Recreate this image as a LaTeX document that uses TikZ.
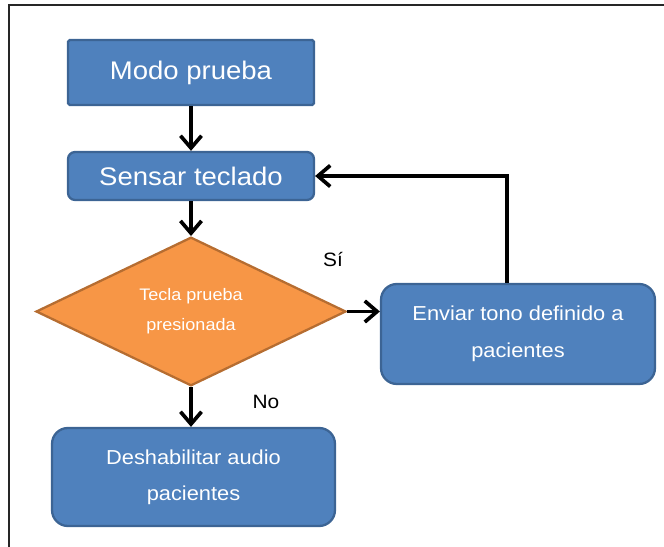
\documentclass[tikz,border=0pt]{standalone}
\usepackage{fontspec}
\setmainfont{Liberation Sans}[FakeStretch=1.08]
\usetikzlibrary{shapes.geometric}
\usetikzlibrary{positioning}
\usetikzlibrary{arrows.meta}
\definecolor{boxblue}{HTML}{4F81BD}
\definecolor{boxedge}{HTML}{3C6494}
\definecolor{decorange}{HTML}{F79646}
\definecolor{decedge}{HTML}{B66D31}
\tikzset{
  box/.style={draw=boxedge, fill=boxblue, line width=1.3pt, text=white, align=center, inner sep=0pt},
  decision/.style={diamond, draw=decedge, fill=decorange, line width=1.3pt, text=white, align=center, inner sep=0pt},
  arr/.style={-{Straight Barb[length=7pt,width=12pt]}, line width=2.1pt},
  lbl/.style={font=\fontsize{11}{13}\selectfont}
}
\begin{document}
\begin{tikzpicture}[x=0.02cm,y=-0.02cm]
\useasboundingbox (0,0) rectangle (664,547);
\draw[line width=1.2pt, black!85] (664,5) -- (9,5) -- (9,547);

\node[box, rounded corners=1pt, minimum width=4.92cm, minimum height=1.3cm, font=\fontsize{14.5}{17}\selectfont] (modo) at (191,72.5) {Modo prueba};
\node[box, rounded corners=4pt, minimum width=4.92cm, minimum height=0.96cm, font=\fontsize{14.5}{17}\selectfont] (sensar) at (191,176) {Sensar teclado};
\node[decision, minimum width=6.2cm, minimum height=2.86cm, font=\fontsize{9.5}{17}\selectfont] (tecla) at (191,311.5) {Tecla prueba\\presionada};
\node[box, rounded corners=9pt, minimum width=5.48cm, minimum height=2cm, font=\fontsize{11.5}{21}\selectfont] (enviar) at (518,334) {Enviar tono definido a\\pacientes};
\node[box, rounded corners=9pt, minimum width=5.66cm, minimum height=1.96cm, font=\fontsize{11.5}{20.5}\selectfont] (deshab) at (193.5,477) {Deshabilitar audio\\pacientes};

\draw[arr] (modo) -- (sensar);
\draw[arr] (sensar) -- (tecla);
\draw[arr] (tecla.east) -- (enviar.west |- tecla.east);
\draw[arr] (tecla.south) -- (tecla.south |- deshab.north);
\draw[arr] ([xshift=-0.22cm]enviar.north) |- (sensar.east);

\node[lbl] (si) at (333,259) {Sí};
\node[lbl] (no) at (266,402) {No};
\end{tikzpicture}
\end{document}
